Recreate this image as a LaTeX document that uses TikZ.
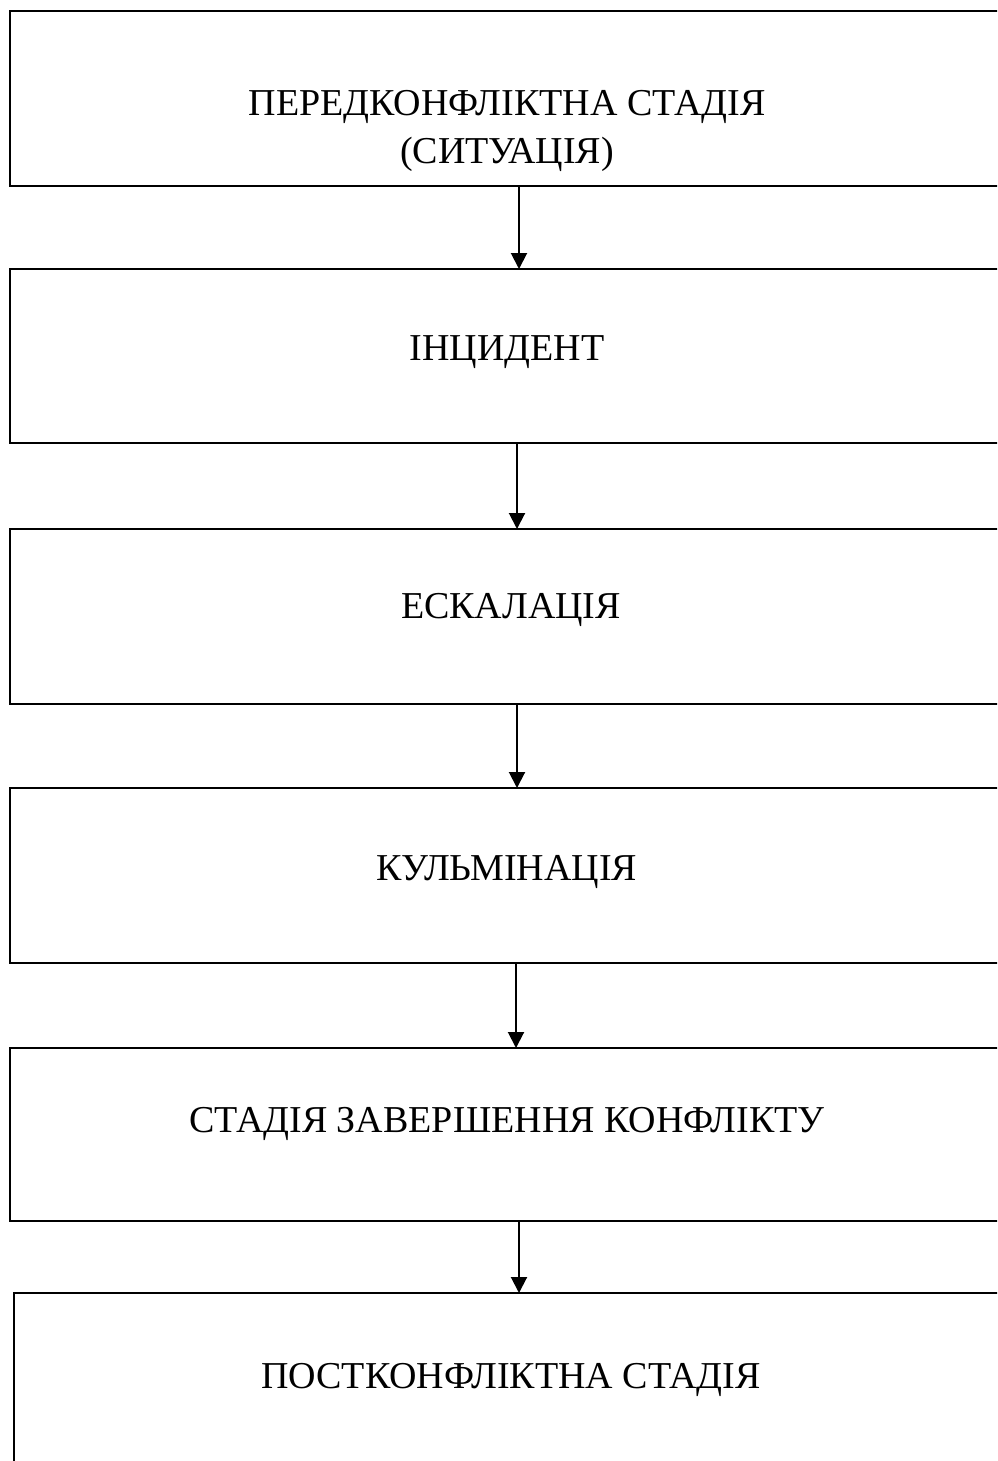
\documentclass[tikz,border=0pt]{standalone}
\usepackage{fontspec}
\setmainfont{Liberation Serif}
\usetikzlibrary{arrows.meta}
\begin{document}
\begin{tikzpicture}[x=0.5pt,y=-0.5pt,
  stagebox/.style={draw=black,line width=1.2pt,fill=none},
  lbl/.style={font=\fontsize{19}{24}\selectfont,align=center,inner sep=0pt},
  arr/.style={-{Triangle[length=8pt,width=8pt]},line width=1pt,shorten >=-0.5pt}]
\path[use as bounding box] (0,0) rectangle (997,1461);
\clip (0,0) rectangle (997,1461);
\fill[white] (0,0) rectangle (997,1461);
% boxes as named rectangle nodes
\node[stagebox,anchor=north west,minimum width=1000*0.5pt,minimum height=175*0.5pt,inner sep=0pt] (b1) at (9,10) {};
\node[stagebox,anchor=north west,minimum width=1000*0.5pt,minimum height=174*0.5pt,inner sep=0pt] (b2) at (9,268) {};
\node[stagebox,anchor=north west,minimum width=1000*0.5pt,minimum height=175*0.5pt,inner sep=0pt] (b3) at (9,528) {};
\node[stagebox,anchor=north west,minimum width=1000*0.5pt,minimum height=175*0.5pt,inner sep=0pt] (b4) at (9,787) {};
\node[stagebox,anchor=north west,minimum width=1000*0.5pt,minimum height=173*0.5pt,inner sep=0pt] (b5) at (9,1047) {};
\node[stagebox,anchor=north west,minimum width=1000*0.5pt,minimum height=200*0.5pt,inner sep=0pt] (b6) at (13,1292) {};
% labels
\node[lbl] (t1) at (507,131) {ПЕРЕДКОНФЛІКТНА СТАДІЯ\\(СИТУАЦІЯ)};
\node[lbl] (t2) at (507,352) {ІНЦИДЕНТ};
\node[lbl] (t3) at (511,610) {ЕСКАЛАЦІЯ};
\node[lbl] (t4) at (507,872) {КУЛЬМІНАЦІЯ};
\node[lbl] (t5) at (507,1124) {СТАДІЯ ЗАВЕРШЕННЯ КОНФЛІКТУ};
\node[lbl] (t6) at (511,1380) {ПОСТКОНФЛІКТНА СТАДІЯ};
% connectors
\coordinate (a1) at (519,185);
\coordinate (a2) at (517,442);
\coordinate (a3) at (517,703);
\coordinate (a4) at (516,962);
\coordinate (a5) at (519,1220);
\draw[arr] (a1) -- (a1 |- b2.north);
\draw[arr] (a2) -- (a2 |- b3.north);
\draw[arr] (a3) -- (a3 |- b4.north);
\draw[arr] (a4) -- (a4 |- b5.north);
\draw[arr] (a5) -- (a5 |- b6.north);
\end{tikzpicture}
\end{document}
